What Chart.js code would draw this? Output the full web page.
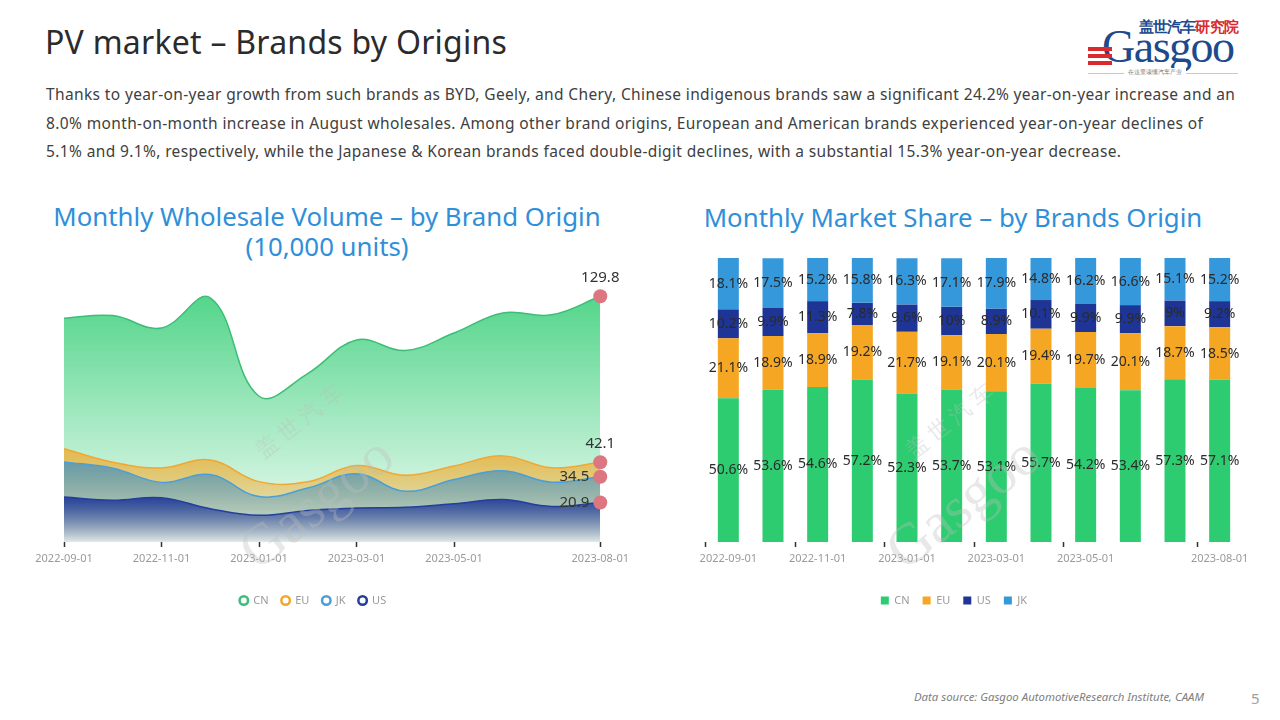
<!DOCTYPE html>
<html>
<head>
<meta charset="utf-8">
<script src="https://cdn.jsdelivr.net/npm/chart.js@4.4.0/dist/chart.umd.min.js"></script>
<style>
  body { margin: 0; width: 1280px; height: 720px; background: #fff; position: relative; overflow: hidden; font-family: "Noto Sans", sans-serif; }
  .abs { position: absolute; }
  #title { left: 45px; top: 20px; font-size: 32px; letter-spacing: 0.25px; color: #2b2b2b; white-space: nowrap; }
  #desc { left: 46px; top: 80px; font-size: 15.5px; letter-spacing: 0.37px; color: #404040; line-height: 28.7px; }
  #desc div { white-space: nowrap; }
  .ctitle { font-size: 25.8px; color: #2f8fd8; text-align: center; line-height: 30px; white-space: nowrap; }
  #foot { left: 914px; top: 689px; font-size: 11.4px; font-style: italic; color: #808080; white-space: nowrap; }
  #page { left: 1251px; top: 688px; font-size: 15px; color: #a0a0a0; }
  .wm { color: rgba(190,190,190,0.35); transform-origin: left top; white-space: nowrap; pointer-events: none; }
</style>
</head>
<body>
<div id="title" class="abs">PV market – Brands by Origins</div>
<div id="desc" class="abs">
  <div>Thanks to year-on-year growth from such brands as BYD, Geely, and Chery, Chinese indigenous brands saw a significant 24.2% year-on-year increase and an</div>
  <div>8.0% month-on-month increase in August wholesales. Among other brand origins, European and American brands experienced year-on-year declines of</div>
  <div>5.1% and 9.1%, respectively, while the Japanese &amp; Korean brands faced double-digit declines, with a substantial 15.3% year-on-year decrease.</div>
</div>

<!-- logo -->
<div class="abs" style="left:1088px;top:14px;width:150px;height:64px;">
  <div class="abs" style="left:51px;top:2px;font-size:14.5px;font-weight:bold;color:#1d4a8c;letter-spacing:-0.9px;white-space:nowrap;">盖世汽车<span style="color:#d92b2f">研究院</span></div>
  <div class="abs" style="left:14px;top:7px;font-family:'Liberation Serif',serif;font-size:46px;color:#1d4a8c;line-height:52px;letter-spacing:-1.5px;">Gasgoo</div>
  <div class="abs" style="left:0px;top:33px;width:24px;height:4px;background:#d92b2f;"></div>
  <div class="abs" style="left:0px;top:40px;width:24px;height:4px;background:#d92b2f;"></div>
  <div class="abs" style="left:0px;top:47px;width:24px;height:4px;background:#d92b2f;"></div>
  <div class="abs" style="left:0px;top:59px;width:150px;height:1px;background:#c8c8c8;"></div>
  <div class="abs" style="left:36px;top:54px;padding:0 4px;background:#fff;font-size:6px;color:#777;white-space:nowrap;">在这里读懂汽车产业</div>
</div>

<div class="abs ctitle" style="left:27px;top:201px;width:600px;">Monthly Wholesale Volume – by Brand Origin<br>(10,000 units)</div>
<div class="abs ctitle" style="left:653px;top:202px;width:600px;">Monthly Market Share – by Brands Origin</div>

<canvas id="volChart" class="abs" width="604" height="370" style="left:30px;top:250px;"></canvas>
<canvas id="shareChart" class="abs" width="590" height="370" style="left:680px;top:250px;"></canvas>

<!-- watermarks -->
<div class="abs wm" style="left:248px;top:440px;font-size:22px;transform:rotate(-38deg);">盖 世 汽 车</div>
<div class="abs wm" style="left:225px;top:530px;font-size:58px;transform:rotate(-38deg);font-family:'Liberation Serif',serif;">Gasgoo</div>
<div class="abs wm" style="left:898px;top:440px;font-size:22px;transform:rotate(-38deg);">盖 世 汽 车</div>
<div class="abs wm" style="left:872px;top:530px;font-size:58px;transform:rotate(-38deg);font-family:'Liberation Serif',serif;">Gasgoo</div>

<div id="foot" class="abs">Data source: Gasgoo AutomotiveResearch Institute, CAAM</div>
<div id="page" class="abs">5</div>

<script>
const months = ['2022-09-01', '2022-10-01', '2022-11-01', '2022-12-01', '2023-01-01', '2023-02-01',
                '2023-03-01', '2023-04-01', '2023-05-01', '2023-06-01', '2023-07-01', '2023-08-01'];
const tickLabels = ['2022-09-01', '', '2022-11-01', '', '2023-01-01', '', '2023-03-01', '', '2023-05-01', '', '', '2023-08-01'];

// wholesale volume, 10,000 units
const volCN = [118.2, 119.6, 113.1, 129.0, 77.0, 89.0, 106.7, 101.2, 110.4, 121.0, 120.0, 129.8];
const volEU = [49.3, 42.1, 39.1, 43.3, 31.9, 31.8, 40.4, 35.2, 40.2, 45.5, 39.2, 42.1];
const volJK = [42.3, 39.0, 31.5, 35.6, 24.0, 28.5, 36.0, 26.8, 33.0, 37.6, 31.6, 34.5];
const volUS = [23.8, 22.1, 23.4, 17.6, 14.1, 16.7, 17.9, 18.3, 20.2, 22.4, 18.8, 20.9];

// market share, %
const shareCN = [50.6, 53.6, 54.6, 57.2, 52.3, 53.7, 53.1, 55.7, 54.2, 53.4, 57.3, 57.1];
const shareEU = [21.1, 18.9, 18.9, 19.2, 21.7, 19.1, 20.1, 19.4, 19.7, 20.1, 18.7, 18.5];
const shareUS = [10.2, 9.9, 11.3, 7.8, 9.6, 10, 8.9, 10.1, 9.9, 9.9, 9, 9.2];
const shareJK = [18.1, 17.5, 15.2, 15.8, 16.3, 17.1, 17.9, 14.8, 16.2, 16.6, 15.1, 15.2];

const FONT = '"Noto Sans", sans-serif';
const lastIdx = months.length - 1;

function fade(rgb, a1, a2) {
  return function(ctx) {
    const chart = ctx.chart;
    const area = chart.chartArea;
    if (!area) return 'rgba(' + rgb + ',' + a1 + ')';
    const data = chart.data.datasets[ctx.datasetIndex].data;
    const top = chart.scales.y.getPixelForValue(Math.max(...data));
    const g = chart.ctx.createLinearGradient(0, top, 0, area.bottom);
    g.addColorStop(0, 'rgba(' + rgb + ',' + a1 + ')');
    g.addColorStop(1, 'rgba(' + rgb + ',' + a2 + ')');
    return g;
  };
}

const tickMark = ctx => tickLabels[ctx.index] ? '#333' : 'rgba(0,0,0,0)';

function xAxis() {
  return {
    grid: { drawOnChartArea: false, drawTicks: true, tickLength: 5, tickWidth: 1.5, tickColor: tickMark },
    border: { display: false },
    ticks: {
      autoSkip: false, maxRotation: 0, color: '#9a9a9a', padding: 5,
      font: { family: FONT, size: 11 },
      callback: (v, i) => tickLabels[i]
    },
    afterFit: axis => { axis.height = 40; }
  };
}

// the legend in the reference sits a little left of the plot centre
const legendShift = {
  id: 'legendShift',
  afterLayout(chart, args, opts) {
    chart.legend.left += opts.dx;
    chart.legend.right += opts.dx;
  }
};

// labels next to the last point of each area
const endLabels = {
  id: 'endLabels',
  afterDatasetsDraw(chart) {
    const ctx = chart.ctx;
    ctx.save();
    ctx.font = '15px ' + FONT;
    ctx.fillStyle = '#333';
    chart.data.datasets.forEach((ds, i) => {
      const pt = chart.getDatasetMeta(i).data[lastIdx];
      const txt = ds.data[lastIdx].toFixed(1);
      if (ds.labelSide === 'top') {
        ctx.textAlign = 'center';
        ctx.textBaseline = 'bottom';
        ctx.fillText(txt, pt.x, pt.y - 11);
      } else {
        ctx.textAlign = 'right';
        ctx.textBaseline = 'middle';
        ctx.fillText(txt, pt.x - 11, pt.y);
      }
    });
    ctx.restore();
  }
};

function area(label, data, rgb, line, a1, order, side) {
  return {
    label: label,
    data: data,
    fill: 'origin',
    tension: 0.4,
    borderColor: line,
    borderWidth: 1.5,
    backgroundColor: fade(rgb, a1, 0.05),
    pointRadius: ctx => ctx.dataIndex === lastIdx ? 7 : 0,
    pointBackgroundColor: '#dc7680',
    pointBorderWidth: 0,
    pointStyle: 'circle',
    clip: false,
    order: order,
    labelSide: side,
    legendColor: line
  };
}

new Chart(document.getElementById('volChart'), {
  type: 'line',
  data: {
    labels: months,
    datasets: [
      area('CN', volCN, '46,204,113', '#3dbd78', 0.82, 4, 'top'),
      area('EU', volEU, '245,166,35', '#f0a830', 0.75, 3, 'top'),
      area('JK', volJK, '52,140,200', '#4a9fd8', 0.7, 2, 'left'),
      area('US', volUS, '30,55,153', '#22409a', 0.92, 1, 'left')
    ]
  },
  options: {
    responsive: false,
    animation: false,
    layout: { padding: { left: 34, right: 30, top: 27, bottom: 4 } },
    scales: {
      x: xAxis(),
      y: { display: false, min: 0, max: 140 }
    },
    plugins: {
      tooltip: { enabled: false },
      legendShift: { dx: -21 },
      legend: {
        position: 'bottom',
        reverse: true,
        labels: {
          usePointStyle: true,
          boxWidth: 8,
          boxHeight: 6,
          padding: 13,
          color: '#9a9a9a',
          font: { family: FONT, size: 11 },
          generateLabels: chart => chart.data.datasets.map((ds, i) => ({
            text: ds.label,
            fillStyle: '#fff',
            strokeStyle: ds.legendColor,
            lineWidth: 2.5,
            pointStyle: 'circle',
            fontColor: '#9a9a9a',
            datasetIndex: i,
            hidden: false
          })).reverse()
        }
      }
    }
  },
  plugins: [endLabels, legendShift]
});

// percentage labels in the middle of each segment
const barLabels = {
  id: 'barLabels',
  afterDatasetsDraw(chart) {
    const ctx = chart.ctx;
    ctx.save();
    ctx.font = '14px ' + FONT;
    ctx.fillStyle = '#2a2a2a';
    ctx.textAlign = 'center';
    ctx.textBaseline = 'middle';
    chart.data.datasets.forEach((ds, i) => {
      chart.getDatasetMeta(i).data.forEach((bar, j) => {
        ctx.fillText(ds.data[j] + '%', bar.x, (bar.y + bar.base) / 2);
      });
    });
    ctx.restore();
  }
};

function bars(label, data, color) {
  return { label: label, data: data, backgroundColor: color, borderWidth: 0, barPercentage: 0.47, categoryPercentage: 1 };
}

new Chart(document.getElementById('shareChart'), {
  type: 'bar',
  data: {
    labels: months,
    datasets: [
      bars('CN', shareCN, '#2ecc71'),
      bars('EU', shareEU, '#f5a623'),
      bars('US', shareUS, '#1f3596'),
      bars('JK', shareJK, '#3498db')
    ]
  },
  options: {
    responsive: false,
    animation: false,
    layout: { padding: { left: 26, right: 28, top: 8, bottom: 4 } },
    scales: {
      x: Object.assign(xAxis(), { stacked: true }),
      y: { display: false, stacked: true, min: 0, max: 100 }
    },
    plugins: {
      tooltip: { enabled: false },
      legendShift: { dx: -20 },
      legend: {
        position: 'bottom',
        labels: {
          boxWidth: 8,
          boxHeight: 8,
          padding: 13,
          color: '#9a9a9a',
          font: { family: FONT, size: 11 }
        }
      }
    }
  },
  plugins: [barLabels, legendShift]
});
</script>
</body>
</html>
